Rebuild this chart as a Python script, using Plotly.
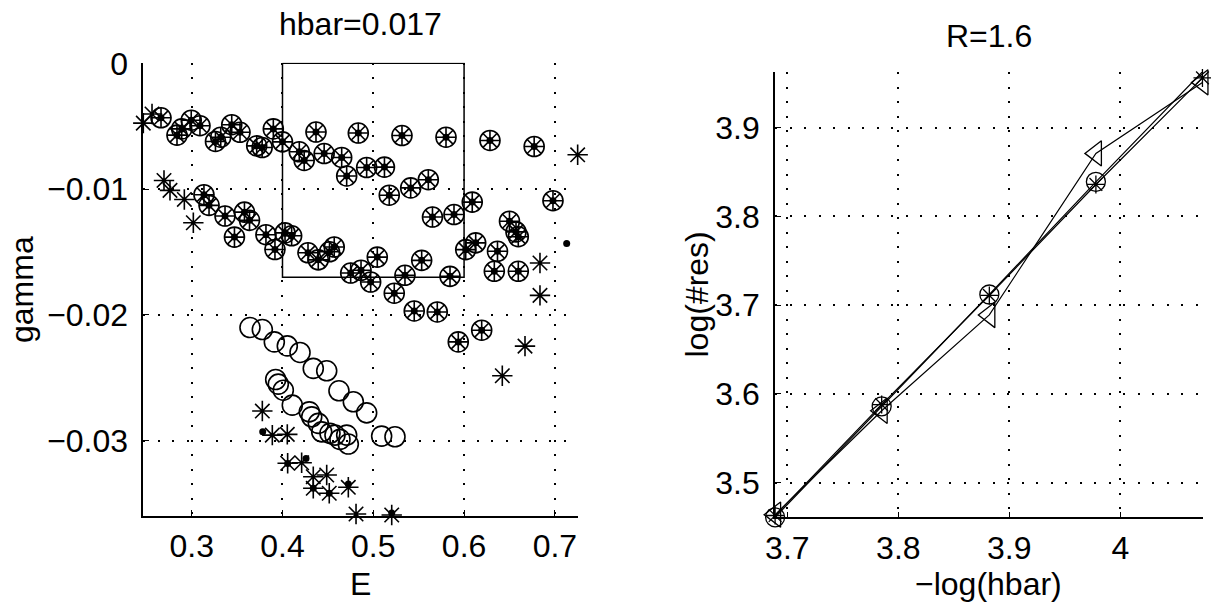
import plotly.graph_objects as go

# ---------------- Left panel (hbar=0.017): resonances E vs gamma ----------------
# points marked by circle AND asterisk (and a dot)
both_E = [0.2662, 0.2838, 0.2890, 0.2995, 0.3091, 0.3262, 0.3320, 0.3441, 0.3532, 0.3716,
          0.3776, 0.3899, 0.4000, 0.4185, 0.4239, 0.4369, 0.4459, 0.4652, 0.4707, 0.4835,
          0.4927, 0.5123, 0.5176, 0.5316, 0.5412, 0.5606, 0.5801, 0.5652, 0.5889, 0.6090,
          0.6285, 0.6500, 0.6772, 0.6979,
          0.3135, 0.3191, 0.3367, 0.3581, 0.3637, 0.3471, 0.3818, 0.3917, 0.4028, 0.4101,
          0.4281, 0.4394, 0.4518, 0.4570, 0.4751, 0.4865, 0.4971, 0.5044, 0.5231, 0.5349,
          0.5533, 0.5845, 0.6018, 0.6128, 0.6368, 0.6597, 0.6572, 0.6333, 0.6597, 0.5451,
          0.5705, 0.5936, 0.6194]
both_gamma = [-0.00433, -0.00571, -0.00521, -0.00452, -0.00496, -0.00621, -0.00587, -0.00488,
              -0.00548, -0.00656, -0.00669, -0.00521, -0.00624, -0.00703, -0.00772, -0.00546,
              -0.00717, -0.00748, -0.00895, -0.00554, -0.00828, -0.00825, -0.01048, -0.00574,
              -0.00990, -0.00925, -0.00587, -0.01222, -0.01202, -0.01103, -0.00613, -0.01255,
              -0.00661, -0.01092,
              -0.01044, -0.01129, -0.01214, -0.01183, -0.01248, -0.01381, -0.01362, -0.01480,
              -0.01348, -0.01371, -0.01506, -0.01562, -0.01498, -0.01460, -0.01667, -0.01645,
              -0.01738, -0.01540, -0.01827, -0.01685, -0.01566, -0.01693, -0.01481, -0.01427,
              -0.01494, -0.01378, -0.01340, -0.01653, -0.01653, -0.01968, -0.01976, -0.02214,
              -0.02121]

# circle only
circle_E = [0.3642, 0.3778, 0.3910, 0.4053, 0.4193, 0.4339, 0.4487, 0.4622, 0.4780, 0.4927,
            0.5092, 0.5239, 0.3925, 0.3954, 0.4009, 0.4108, 0.4295, 0.4322, 0.4395, 0.4432,
            0.4523, 0.4578, 0.4633, 0.4707, 0.4725]
circle_gamma = [-0.02100, -0.02116, -0.02214, -0.02246, -0.02298, -0.02425, -0.02444, -0.02603,
                -0.02690, -0.02778, -0.02963, -0.02968, -0.02513, -0.02550, -0.02598, -0.02717,
                -0.02770, -0.02810, -0.02862, -0.02929, -0.02941, -0.02955, -0.02989, -0.02955,
                -0.03026]

# asterisk only
star_E = [0.2467, 0.2563, 0.2695, 0.2761, 0.2919, 0.3018, 0.7251, 0.6836, 0.6836, 0.6671,
          0.6421, 0.3778, 0.3888, 0.4053, 0.4057, 0.4211, 0.4339, 0.4487, 0.4339, 0.4515,
          0.4725, 0.4810, 0.5203]
star_gamma = [-0.00475, -0.00403, -0.00931, -0.01010, -0.01082, -0.01267, -0.00727, -0.01587,
              -0.01844, -0.02248, -0.02483, -0.02764, -0.02955, -0.02949, -0.03179, -0.03175,
              -0.03286, -0.03272, -0.03378, -0.03417, -0.03370, -0.03582, -0.03590]

# dot only (besides the circle+asterisk points)
dot_E = [0.3782, 0.7130, 0.4259, 0.4057, 0.4339, 0.4515, 0.4725, 0.5203]
dot_gamma = [-0.02929, -0.01433, -0.03140, -0.03180, -0.03378, -0.03417, -0.03344, -0.03574]

# zoom rectangle
box_E = [0.4, 0.6]
box_gamma = [-0.017, 0.0]

left_xticks = [0.3, 0.4, 0.5, 0.6, 0.7]
left_xticktext = ["0.3", "0.4", "0.5", "0.6", "0.7"]
left_yticks = [-0.03, -0.02, -0.01, 0.0]
left_yticktext = ["\u22120.03", "\u22120.02", "\u22120.01", "0"]

# ---------------- Right panel (R=1.6): log(#res) vs -log(hbar) ----------------
neg_log_hbar = [3.689, 3.785, 3.882, 3.978, 4.074]
logres_circle = [3.461, 3.586, 3.712, 3.839, 3.963]
logres_star = [3.463, 3.588, 3.711, 3.836, 3.956]
logres_tri = [3.464, 3.581, 3.689, 3.871, 3.951]

right_xticks = [3.7, 3.8, 3.9, 4.0]
right_xticktext = ["3.7", "3.8", "3.9", "4"]
right_yticks = [3.5, 3.6, 3.7, 3.8, 3.9]
right_yticktext = ["3.5", "3.6", "3.7", "3.8", "3.9"]

FONT = "Liberation Sans, Arial, Helvetica, sans-serif"
FS = 32
W, H = 1211, 603

fig = go.Figure()

# left panel traces
fig.add_trace(go.Scatter(
    x=both_E + circle_E, y=both_gamma + circle_gamma, mode="markers",
    marker=dict(symbol="circle-open", size=20, color="black", line=dict(color="black", width=1.6)),
    cliponaxis=False, showlegend=False, xaxis="x", yaxis="y"))
fig.add_trace(go.Scatter(
    x=both_E + star_E, y=both_gamma + star_gamma, mode="markers",
    marker=dict(symbol="asterisk-open", size=17, color="black", line=dict(color="black", width=1.6)),
    cliponaxis=False, showlegend=False, xaxis="x", yaxis="y"))
fig.add_trace(go.Scatter(
    x=both_E + dot_E, y=both_gamma + dot_gamma, mode="markers",
    marker=dict(symbol="circle", size=7, color="black"),
    cliponaxis=False, showlegend=False, xaxis="x", yaxis="y"))
fig.add_trace(go.Scatter(
    x=[box_E[0], box_E[0], box_E[1], box_E[1], box_E[0]],
    y=[box_gamma[1], box_gamma[0], box_gamma[0], box_gamma[1], box_gamma[1]],
    mode="lines", line=dict(color="black", width=1.5),
    showlegend=False, xaxis="x", yaxis="y"))

# right panel traces
for ys, sym, sz in [(logres_circle, "circle-open", 19),
                    (logres_star, "asterisk-open", 15),
                    (logres_tri, "triangle-left-open", 22)]:
    fig.add_trace(go.Scatter(
        x=neg_log_hbar, y=ys, mode="lines+markers",
        line=dict(color="black", width=1.2),
        marker=dict(symbol=sym, size=sz, color="black", line=dict(color="black", width=1.3)),
        cliponaxis=False, showlegend=False, xaxis="x2", yaxis="y2"))

axis_common = dict(
    automargin=False,
    showline=True, linecolor="black", linewidth=1.6, mirror=False,
    ticks="inside", ticklen=6, tickwidth=1.2, tickcolor="black",
    showgrid=True, gridcolor="black", gridwidth=1.5, griddash="2px,12.5px",
    zeroline=False, tickfont=dict(family=FONT, size=FS, color="black"),
)

fig.update_layout(
    template="none",
    width=W, height=H,
    margin=dict(l=0, r=0, t=0, b=0, pad=0, autoexpand=False),
    paper_bgcolor="white", plot_bgcolor="white",
    font=dict(family=FONT, size=FS, color="black"),
    xaxis=dict(domain=[143.3 / W, 578.3 / W], range=[0.2467, 0.7258],
               tickvals=left_xticks, ticktext=left_xticktext, anchor="y",
               ticklabelstandoff=1, **axis_common),
    yaxis=dict(domain=[1 - 516 / H, 1 - 62.7 / H], range=[-0.03598, 0.00005],
               tickvals=left_yticks, ticktext=left_yticktext, anchor="x",
               ticklabelstandoff=7, **axis_common),
    xaxis2=dict(domain=[775 / W, 1203 / W], range=[3.6889, 4.0745],
                tickvals=right_xticks, ticktext=right_xticktext, anchor="y2",
                ticklabelstandoff=1, **axis_common),
    yaxis2=dict(domain=[1 - 517.3 / H, 1 - 72 / H], range=[3.4610, 3.9627],
                tickvals=right_yticks, ticktext=right_yticktext, anchor="x2",
                ticklabelstandoff=7, **axis_common),
)

def ann(text, px, py, angle=0):
    return dict(text=text, x=px / W, y=1 - py / H, xref="paper", yref="paper",
                xanchor="center", yanchor="middle", showarrow=False, textangle=angle,
                font=dict(family=FONT, size=FS, color="black"))

fig.update_layout(annotations=[
    ann("hbar=0.017", 360.5, 23.8),
    ann("R=1.6", 988.5, 35.5),
    ann("E", 360.5, 584),
    ann("\u2212log(hbar)", 988.5, 584),
    ann("gamma", 22, 290, -90),
    ann("log(#res)", 697, 294.5, -90),
])

fig.write_html("out.html", post_script="document.body.style.margin='0';document.body.style.overflow='hidden';")
